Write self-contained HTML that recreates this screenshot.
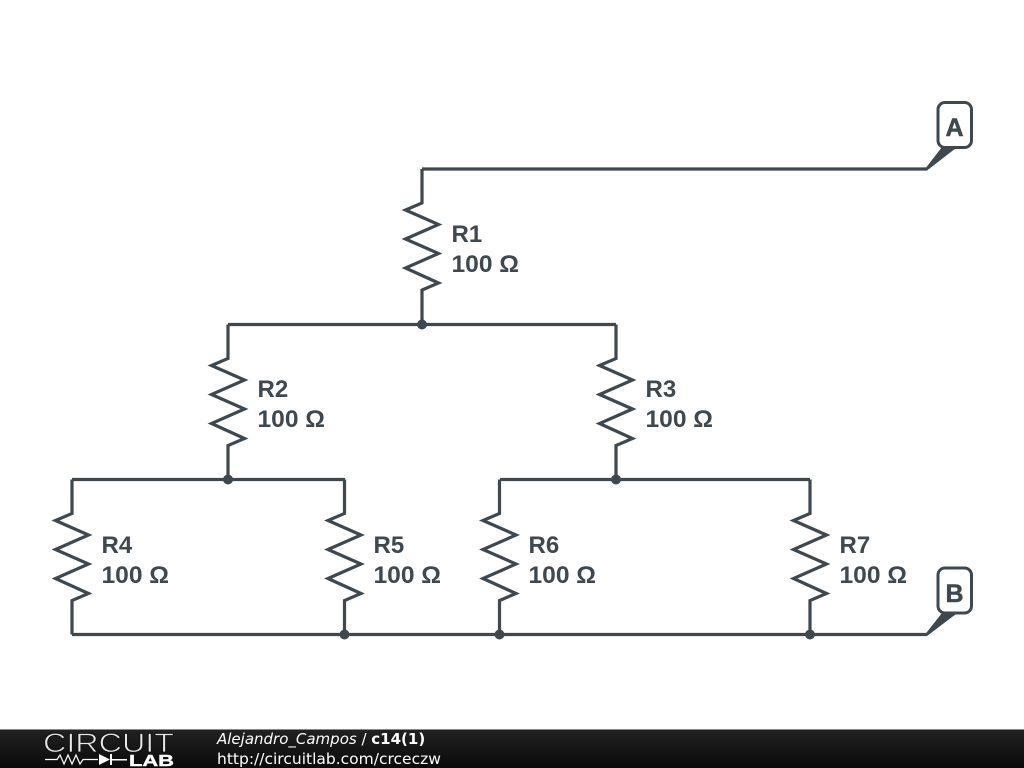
<!DOCTYPE html>
<html>
<head>
<meta charset="utf-8">
<style>
html,body{margin:0;padding:0;background:#fff;width:1024px;height:768px;overflow:hidden}
svg{display:block}
.l{font-family:"Liberation Sans",sans-serif;font-weight:700;font-size:24px;fill:#3f484f}
.t{font-family:"Liberation Sans",sans-serif;font-weight:700;font-size:25px;fill:#3f484f;stroke:#3f484f;stroke-width:.5}
.f{font-family:"DejaVu Sans",sans-serif;font-size:15.5px;fill:#fff}
</style>
</head>
<body>
<svg width="1024" height="768" viewBox="0 0 1024 768" xmlns="http://www.w3.org/2000/svg">
<defs>
<linearGradient id="g" x1="0" y1="0" x2="0" y2="1">
<stop offset="0" stop-color="#222"/><stop offset="1" stop-color="#0a0a0a"/>
</linearGradient>
<polyline id="r" points="0,0 0,34 -16.500,41 16.500,55.500 -16.500,70 16.500,84.500 -16.500,99 16.500,114 0,121 0,155" fill="none" stroke="#3f484f" stroke-width="3.200" stroke-linejoin="miter"/>
</defs>

<g fill="none" stroke="#3f484f" stroke-width="3.200">
<polyline points="422,169 927,169"/>
<polyline points="228,324.500 616,324.500"/>
<polyline points="72,479.500 345,479.500"/>
<polyline points="500,479.500 810,479.500"/>
<polyline points="72,634.500 927,634.500"/>
</g>

<use href="#r" x="422" y="169"/>
<use href="#r" x="228" y="324.500"/>
<use href="#r" x="616" y="324.500"/>
<use href="#r" x="72" y="479.500"/>
<use href="#r" x="344.500" y="479.500"/>
<use href="#r" x="499.500" y="479.500"/>
<use href="#r" x="810" y="479.500"/>

<g fill="#3f484f">
<circle cx="422" cy="324.500" r="5"/>
<circle cx="228" cy="479.500" r="5"/>
<circle cx="616" cy="479.500" r="5"/>
<circle cx="344.500" cy="634.500" r="5"/>
<circle cx="499.500" cy="634.500" r="5"/>
<circle cx="810" cy="634.500" r="5"/>
<polygon points="925,169 942,147 960,145 927,170.500"/>
<polygon points="925,634.500 942,613 960,611 927,636"/>
</g>
<rect x="938" y="102.500" width="33.500" height="45" rx="7" fill="#fff" stroke="#3f484f" stroke-width="3"/>
<rect x="938" y="568" width="33.500" height="45" rx="7" fill="#fff" stroke="#3f484f" stroke-width="3"/>
<text class="t" x="954.500" y="136" text-anchor="middle">A</text>
<text class="t" x="954.500" y="602" text-anchor="middle">B</text>

<text class="l" x="451.500" y="242">R1</text><text class="l" x="451.500" y="272" textLength="67.500" lengthAdjust="spacingAndGlyphs">100 Ω</text>
<text class="l" x="257.500" y="397">R2</text><text class="l" x="257.500" y="427" textLength="67.500" lengthAdjust="spacingAndGlyphs">100 Ω</text>
<text class="l" x="645.500" y="397">R3</text><text class="l" x="645.500" y="427" textLength="67.500" lengthAdjust="spacingAndGlyphs">100 Ω</text>
<text class="l" x="101.500" y="553">R4</text><text class="l" x="101.500" y="583" textLength="67.500" lengthAdjust="spacingAndGlyphs">100 Ω</text>
<text class="l" x="373.500" y="553">R5</text><text class="l" x="373.500" y="583" textLength="67.500" lengthAdjust="spacingAndGlyphs">100 Ω</text>
<text class="l" x="528.500" y="553">R6</text><text class="l" x="528.500" y="583" textLength="67.500" lengthAdjust="spacingAndGlyphs">100 Ω</text>
<text class="l" x="839.500" y="553">R7</text><text class="l" x="839.500" y="583" textLength="67.500" lengthAdjust="spacingAndGlyphs">100 Ω</text>

<rect x="0" y="729" width="1024" height="39" fill="url(#g)"/>
<rect x="0" y="729" width="1024" height="1" fill="#8a8a8a"/>
<text x="43" y="752" font-family="'Liberation Sans',sans-serif" font-size="27" fill="#e8e8e8" stroke="#111" stroke-width="0.8" textLength="131" lengthAdjust="spacingAndGlyphs">CIRCUIT</text>
<polyline points="45,759.500 57,759.500 60,755 64,764 68,755 72,764 76,755 80,764 83,759.500 98,759.500" fill="none" stroke="#fff" stroke-width="1.200"/>
<polygon points="99,754 110,759.500 99,765" fill="#fff"/>
<rect x="110" y="754" width="2" height="11" fill="#fff"/>
<rect x="112" y="759" width="15" height="1.500" fill="#fff"/>
<text x="129" y="766" font-family="'Liberation Sans',sans-serif" font-weight="700" font-size="16" fill="#fff" stroke="#fff" stroke-width="0.4" textLength="45" lengthAdjust="spacingAndGlyphs">LAB</text>
<text x="217" y="744" font-family="'DejaVu Sans',sans-serif" font-size="15" fill="#fff"><tspan font-style="italic">Alejandro_Campos</tspan> / <tspan font-weight="700">c14(1)</tspan></text>
<text class="f" x="217" y="764">http://circuitlab.com/crceczw</text>
</svg>
</body>
</html>
